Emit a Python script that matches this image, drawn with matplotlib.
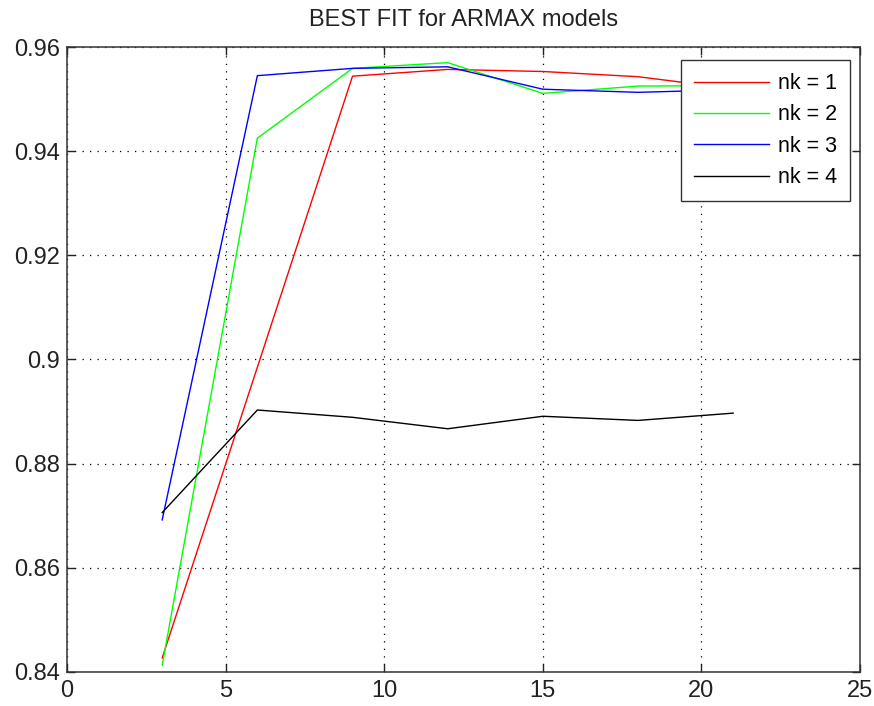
import numpy as np
import matplotlib
matplotlib.use("Agg")
import matplotlib.pyplot as plt


# =========================
# data: best fit per model order
# =========================

orders = [3, 6, 9, 12, 15, 18, 21]

fit_nk1 = [0.8427, 0.8985, 0.9544, 0.9557, 0.9553, 0.9543, 0.9520]
fit_nk2 = [0.8413, 0.9425, 0.9559, 0.9570, 0.9511, 0.9525, 0.9526]
fit_nk3 = [0.8692, 0.9545, 0.9559, 0.9562, 0.9519, 0.9513, 0.9518]
fit_nk4 = [0.8706, 0.8903, 0.8889, 0.8867, 0.8891, 0.8883, 0.8897]

series = [fit_nk1, fit_nk2, fit_nk3, fit_nk4]
labels = ["nk = 1", "nk = 2", "nk = 3", "nk = 4"]
colors = ["#ff0000", "#00ff00", "#0000ff", "#000000"]

xticks = [0, 5, 10, 15, 20, 25]
yticks = [0.84, 0.86, 0.88, 0.90, 0.92, 0.94, 0.96]
yticklabels = ["0.84", "0.86", "0.88", "0.9", "0.92", "0.94", "0.96"]


plt.rcParams["font.family"] = ["Liberation Sans", "DejaVu Sans"]

fig = plt.figure(figsize=(8.74, 7.06), dpi=100)
ax = fig.add_axes([0.0767, 0.0482, 0.9073, 0.8852])

for vals, lab, col in zip(series, labels, colors):
    ax.plot(orders, vals, color=col, linewidth=1.0, label=lab)

ax.set_xlim(0, 25)
ax.set_ylim(0.84, 0.96)
ax.set_xticks(xticks)
ax.set_yticks(yticks)
ax.set_yticklabels(yticklabels)

ax.grid(True, color="black", linestyle=(0, (1, 5)), linewidth=0.9)

ax.tick_params(direction="in", length=6, width=1.0, top=True, right=True,
               labelsize=17, colors="#222222", pad=5)
ax.tick_params(axis="x", pad=6)

for sp in ax.spines.values():
    sp.set_linewidth(1.1)
    sp.set_color("#333333")

ax.set_title("BEST FIT for ARMAX models", fontsize=17, pad=15, color="#222222")

leg = ax.legend(loc="upper right", bbox_to_anchor=(0.9874, 0.979),
                borderaxespad=0, fontsize=15.5, fancybox=False, framealpha=1,
                edgecolor="#333333", handlelength=3.5, handletextpad=0.4,
                labelspacing=0.48, borderpad=0.6)
leg.get_frame().set_linewidth(1.0)

fig.savefig("out.png", dpi=100)
